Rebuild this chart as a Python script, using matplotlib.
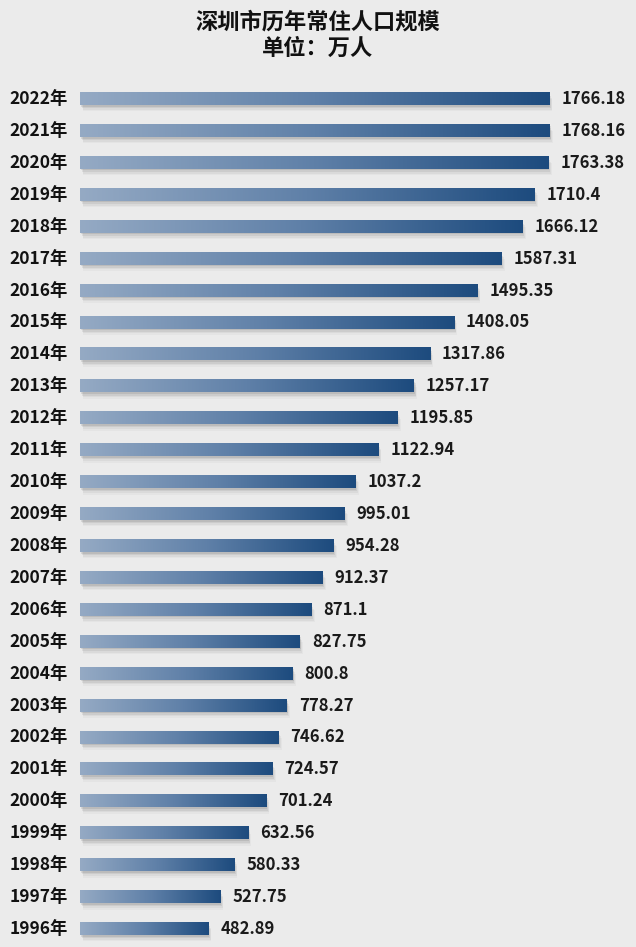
import numpy as np
import matplotlib
matplotlib.use("Agg")
import matplotlib.pyplot as plt
from matplotlib.colors import LinearSegmentedColormap

plt.rcParams['font.family'] = ['Noto Sans CJK SC', 'DejaVu Sans']

years = [2022, 2021, 2020, 2019, 2018, 2017, 2016, 2015, 2014, 2013, 2012, 2011, 2010,
         2009, 2008, 2007, 2006, 2005, 2004, 2003, 2002, 2001, 2000, 1999, 1998, 1997, 1996]
values = [1766.18, 1768.16, 1763.38, 1710.4, 1666.12, 1587.31, 1495.35, 1408.05, 1317.86,
          1257.17, 1195.85, 1122.94, 1037.2, 995.01, 954.28, 912.37, 871.1, 827.75, 800.8,
          778.27, 746.62, 724.57, 701.24, 632.56, 580.33, 527.75, 482.89]
value_labels = ["1766.18", "1768.16", "1763.38", "1710.4", "1666.12", "1587.31", "1495.35",
                "1408.05", "1317.86", "1257.17", "1195.85", "1122.94", "1037.2", "995.01",
                "954.28", "912.37", "871.1", "827.75", "800.8", "778.27", "746.62", "724.57",
                "701.24", "632.56", "580.33", "527.75", "482.89"]

W, H = 636, 947
fig = plt.figure(figsize=(W / 100, H / 100), dpi=100)
fig.patch.set_facecolor('#ebebeb')

# axes spans pixel x 80..636, y 83..945
ax = fig.add_axes([80 / W, 1 - 945 / H, (W - 80) / W, (945 - 83) / H])
ax.set_facecolor('none')
xmax = 2093
ax.set_xlim(0, xmax)
ax.set_ylim(26.5, -0.5)
ax.axis('off')

cmap = LinearSegmentedColormap.from_list('bar', ['#95aac4', '#5f80a8', '#1d4b7e'])
grad = np.linspace(0, 1, 256).reshape(1, -1)
bh = 0.38

for i, v in enumerate(values):
    # soft shadow under each bar
    for k, a in enumerate([0.12, 0.09, 0.06, 0.04]):
        off = 0.05 + 0.05 * k
        ax.fill_between([4 + 3 * k, v + 3 + 3 * k], i - bh / 2 + off, i + bh / 2 + off,
                        color='#444444', alpha=a, linewidth=0, zorder=1)
    ax.imshow(grad, cmap=cmap, aspect='auto', extent=[0, v, i + bh / 2, i - bh / 2],
              zorder=2, interpolation='bilinear')
    ax.text(v + 45, i, value_labels[i], ha='left', va='center', fontsize=12,
            fontweight='bold', color='#1a1a1a')
    ax.text(-45, i, f"{years[i]}年", ha='right', va='center', fontsize=12.5,
            fontweight='bold', color='#111111', clip_on=False)

ax.set_xlim(0, xmax)
ax.set_ylim(26.5, -0.5)

fig.text(0.5, 1 - 22 / H, "深圳市历年常住人口规模", ha='center', va='center',
         fontsize=16, fontweight='bold', color='#111111')
fig.text(0.5, 1 - 48 / H, "单位：万人", ha='center', va='center',
         fontsize=16, fontweight='bold', color='#111111')

fig.savefig('out.png', dpi=100, facecolor=fig.get_facecolor())
